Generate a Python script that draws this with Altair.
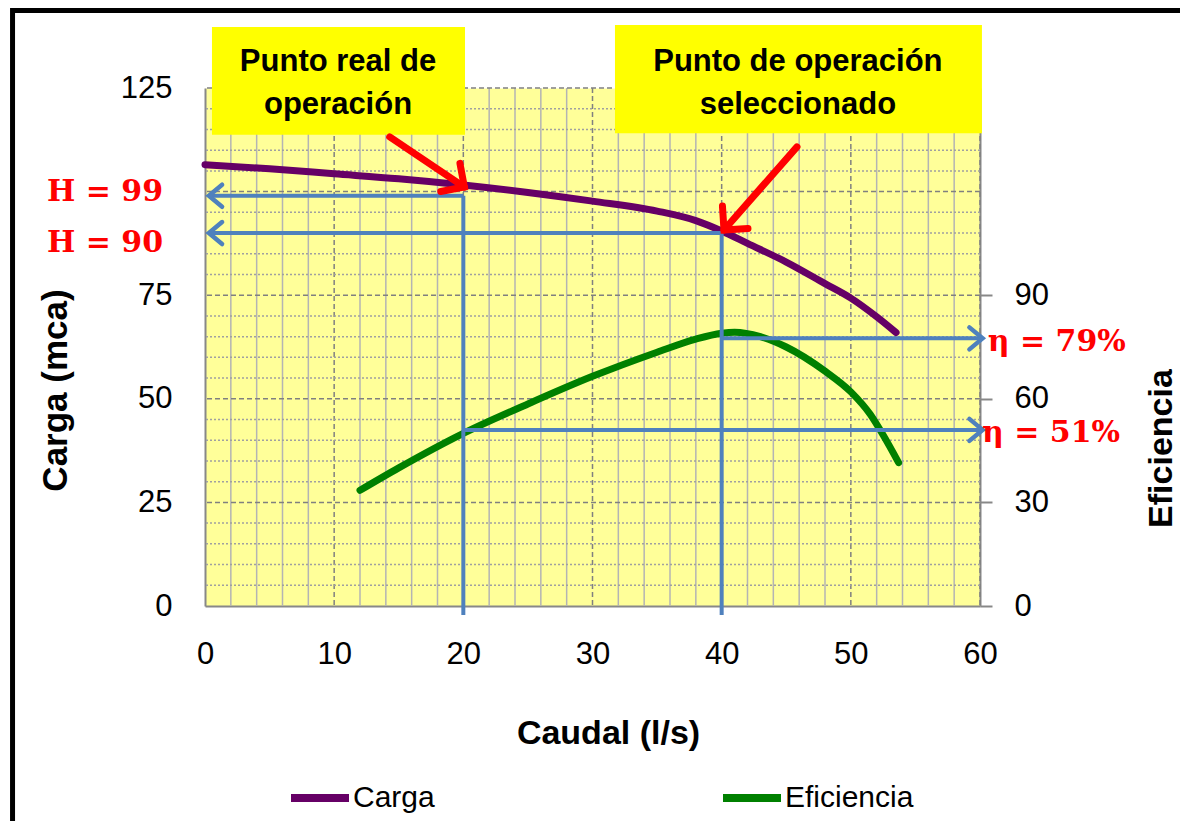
import altair as alt
import pandas as pd

# ---------------- data ----------------
caudal_carga = [0, 5, 10, 15, 20, 25, 30, 35, 38, 40, 42, 45, 48, 50, 52, 53.5]
carga = [106.5, 105.5, 104.3, 103.1, 101.6, 99.8, 97.7, 95.3, 93.0, 90.5, 87.5, 83.0, 77.8, 74.3, 69.8, 66.0]

caudal_ef = [12, 15, 20, 25, 30, 35, 38, 40, 41, 43, 45, 48, 50, 51.5, 52.5, 53.7]
eficiencia = [33.5, 40.0, 50.0, 58.5, 66.5, 73.5, 77.3, 79.0, 79.3, 78.0, 75.0, 68.0, 62.0, 55.5, 49.5, 41.5]

series = ["Carga", "Eficiencia"]
colores = ["#660066", "#008000"]

x_labels = [0, 10, 20, 30, 40, 50, 60]
x_minor = [v for v in range(0, 61, 2) if v % 10 != 0]
x_major = [10, 20, 30, 40, 50, 60]
y_left_labels = [0, 25, 50, 75, 125]
y_right_labels = [0, 30, 60, 90]
# horizontal grid in Eficiencia units (one left step of 5 = 6 right units)
yr_minor = [v for v in range(0, 151, 6) if v % 30 != 0]
yr_major = [30, 60, 90, 120, 150]

# annotation values (data units)
h_real, h_sel = 99, 90
q_real, q_sel = 20, 40
eta_sel, eta_real = 77.5, 51

box_x = [0.54, 31.74]
box_x2 = [20.13, 60.15]
box_y = [139.7, 140.2]
box_y2 = [113.7, 114.1]
box_text = ["Punto real de", "operación", "Punto de operación", "seleccionado"]
box_text_x = [10.3, 10.3, 45.9, 45.9]
box_text_y = [129.2, 118.8, 129.2, 118.8]

red_x = [14.3, 45.83]
red_y = [113.2, 110.8]
red_tip_x = [20.08, 40.18]
red_tip_y = [101.1, 90.73]
red_angle = [124.4, 221.3]

h_labels = ["H = 99", "H = 90"]
h_label_x = [-7.74, -7.74]
h_label_y = [99.8, 87.6]
eta_labels = ["η = 79%", "η = 51%"]
eta_label_x = [60.6, 60.15]
eta_label_y = [76.5, 50.1]

# frame lines (data units, outside the plot)
frame_left_x = -14.9
frame_top_y = 143.7

# ---------------- styling ----------------
SANS = "Liberation Sans"
SERIF = "DejaVu Serif"
BLUE = "#4F81BD"
RED = "#FF0000"

x_scale = alt.Scale(domain=[0, 60], nice=False, zero=False)
yl_scale = alt.Scale(domain=[0, 125], nice=False)
yr_scale = alt.Scale(domain=[0, 150], nice=False)

x_axis = alt.Axis(
    values=x_labels, labelFlush=False, ticks=False, grid=False,
    domainColor="#888888", domainWidth=2,
    labelFont=SANS, labelFontSize=31, labelColor="black", labelPadding=33,
    title="Caudal (l/s)", titleFont=SANS, titleFontSize=34, titleFontWeight="bold",
    titleColor="black", titleX=403, titleY=127, titleAlign="center", titleBaseline="middle",
)

yl_axis = alt.Axis(
    values=y_left_labels, labelFlush=False, ticks=False, grid=False,
    domainColor="#888888", domainWidth=2,
    labelFont=SANS, labelFontSize=31, labelColor="black", labelPadding=33,
    title="Carga (mca)", titleFont=SANS, titleFontSize=35, titleFontWeight="bold",
    titleColor="black", titleX=-150, titleY=302, titleAngle=270,
    titleAlign="center", titleBaseline="middle",
)

yr_axis = alt.Axis(
    orient="right", values=y_right_labels, labelFlush=False,
    grid=False, ticks=True, tickSize=12, tickColor="#888888", tickWidth=2,
    domainColor="#888888", domainWidth=2,
    labelFont=SANS, labelFontSize=31, labelColor="black", labelPadding=22,
    title="Eficiencia", titleFont=SANS, titleFontSize=34, titleFontWeight="bold",
    titleColor="black", titleX=181, titleY=360, titleAngle=270,
    titleAlign="center", titleBaseline="middle",
)

color_enc = alt.Color(
    "serie:N",
    scale=alt.Scale(domain=series, range=colores),
    legend=alt.Legend(
        title=None, orient="none", direction="horizontal",
        legendX=82, legendY=677,
        symbolType="stroke", symbolStrokeWidth=8, symbolSize=3364,
        labelFont=SANS, labelFontSize=30, labelColor="black", labelOffset=0,
        columnPadding=272, padding=0, labelLimit=400,
    ),
)

# ---------------- frames ----------------
df_carga = pd.DataFrame({"caudal": caudal_carga, "valor": carga, "serie": "Carga"})
df_ef = pd.DataFrame({"caudal": caudal_ef, "valor": eficiencia, "serie": "Eficiencia"})

df_xminor = pd.DataFrame({"v": x_minor})
df_xmajor = pd.DataFrame({"v": x_major})
df_yminor = pd.DataFrame({"v": yr_minor})
df_ymajor = pd.DataFrame({"v": yr_major})

df_boxes = pd.DataFrame({"x": box_x, "x2": box_x2, "y": box_y, "y2": box_y2})
df_box_text = pd.DataFrame({"x": box_text_x, "y": box_text_y, "t": box_text})

df_blue_left = pd.DataFrame({
    "x": [q_real, q_sel, q_real, q_sel],
    "x2": [q_real, q_sel, 0.3, 0.3],
    "y": [h_real, 90.5, h_real, h_sel],
    "y2": [-2.2, -2.2, h_real, h_sel],
})
df_blue_left_tip = pd.DataFrame({"x": [0.3, 0.3], "y": [h_real, h_sel]})

df_blue_right = pd.DataFrame({
    "x": [q_sel, q_real], "x2": [60.2, 60.2], "y": [eta_sel, eta_real], "y2": [eta_sel, eta_real],
})
df_blue_right_tip = pd.DataFrame({"x": [60.2, 60.2], "y": [eta_sel, eta_real]})

df_red = pd.DataFrame({"x": red_x, "y": red_y, "x2": red_tip_x, "y2": red_tip_y, "a": red_angle})
df_h = pd.DataFrame({"x": h_label_x, "y": h_label_y, "t": h_labels})
df_eta = pd.DataFrame({"x": eta_label_x, "y": eta_label_y, "t": eta_labels})

df_frame = pd.DataFrame({
    "x": [frame_left_x, frame_left_x], "x2": [frame_left_x, 80],
    "y": [frame_top_y + 2, frame_top_y], "y2": [-60, frame_top_y],
})


# every layer repeats the same axis definition so the shared axes merge cleanly
def X(f):
    return alt.X(f, type="quantitative", scale=x_scale, axis=x_axis)


def YL(f):
    return alt.Y(f, type="quantitative", scale=yl_scale, axis=yl_axis)


def YR(f):
    return alt.Y(f, type="quantitative", scale=yr_scale, axis=yr_axis)


# ---------------- right (Eficiencia) group, with the grid ----------------
g_xminor = alt.Chart(df_xminor).mark_rule(color="#b4b4b4", strokeWidth=1.5).encode(x=X("v"))
g_xmajor = alt.Chart(df_xmajor).mark_rule(
    color="#808080", strokeWidth=1.5, strokeDash=[5, 3]
).encode(x=X("v"))
g_yminor = alt.Chart(df_yminor).mark_rule(
    color="#a0a0a0", strokeWidth=1.5, strokeDash=[2, 2]
).encode(y=YR("v"))
g_ymajor = alt.Chart(df_ymajor).mark_rule(
    color="#808080", strokeWidth=1.5, strokeDash=[5, 3]
).encode(y=YR("v"))

ef_line = alt.Chart(df_ef).mark_line(
    strokeWidth=7, interpolate="monotone", strokeCap="round"
).encode(x=X("caudal"), y=YR("valor"), color=color_enc)

blue_right = alt.Chart(df_blue_right).mark_rule(color=BLUE, strokeWidth=4).encode(
    x=X("x"), x2="x2", y=YR("y"), y2="y2"
)
blue_right_tip = alt.Chart(df_blue_right_tip).mark_point(
    shape="M -1.2 -1 L 0 0 L -1.2 1", size=484, filled=False,
    color=BLUE, strokeWidth=4.5, opacity=1, strokeCap="round",
).encode(x=X("x"), y=YR("y"))
eta_text = alt.Chart(df_eta).mark_text(
    font=SERIF, fontSize=30, fontWeight="bold", color=RED, align="left", baseline="middle"
).encode(x=X("x"), y=YR("y"), text="t:N")

right_group = alt.layer(
    g_xminor, g_xmajor, g_yminor, g_ymajor, ef_line, blue_right, blue_right_tip, eta_text
)

# ---------------- left (Carga) group ----------------
carga_line = alt.Chart(df_carga).mark_line(
    strokeWidth=7, interpolate="monotone", strokeCap="round"
).encode(x=X("caudal"), y=YL("valor"), color=color_enc)

boxes = alt.Chart(df_boxes).mark_rect(color="#FFFF00").encode(
    x=X("x"), x2="x2", y=YL("y"), y2="y2"
)
box_texts = alt.Chart(df_box_text).mark_text(
    font=SANS, fontSize=31, fontWeight="bold", color="black",
    align="center", baseline="alphabetic",
).encode(x=X("x"), y=YL("y"), text="t:N")

blue_left = alt.Chart(df_blue_left).mark_rule(color=BLUE, strokeWidth=4).encode(
    x=X("x"), x2="x2", y=YL("y"), y2="y2"
)
blue_left_tip = alt.Chart(df_blue_left_tip).mark_point(
    shape="M 1.2 -1 L 0 0 L 1.2 1", size=484, filled=False,
    color=BLUE, strokeWidth=4.5, opacity=1, strokeCap="round",
).encode(x=X("x"), y=YL("y"))

red_shaft = alt.Chart(df_red).mark_rule(color=RED, strokeWidth=7, strokeCap="round").encode(
    x=X("x"), x2="x2", y=YL("y"), y2="y2"
)
red_tip = alt.Chart(df_red).mark_point(
    shape="M -1 1 L 0 0 L 1 1", size=1156, filled=False,
    color=RED, strokeWidth=7, opacity=1, strokeCap="round",
).encode(x=X("x2"), y=YL("y2"), angle=alt.Angle("a:Q", scale=None))

h_text = alt.Chart(df_h).mark_text(
    font=SERIF, fontSize=30, fontWeight="bold", color=RED, align="center", baseline="middle"
).encode(x=X("x"), y=YL("y"), text="t:N")

frame = alt.Chart(df_frame).mark_rule(color="black", strokeWidth=5).encode(
    x=X("x"), x2="x2", y=YL("y"), y2="y2"
)

left_group = alt.layer(
    carga_line, boxes, box_texts, blue_left, blue_left_tip, red_shaft, red_tip, h_text, frame
)

chart = alt.layer(right_group, left_group).resolve_scale(
    y="independent"
).properties(
    width=775, height=518,
    padding={"left": 197, "top": 80, "right": 200, "bottom": 215},
    autosize=alt.AutoSizeParams(type="none"),
    background="white",
).configure_view(stroke="transparent", fill="#FFFF99")

chart.save("out.html", embed_options={"renderer": "svg", "actions": False})
